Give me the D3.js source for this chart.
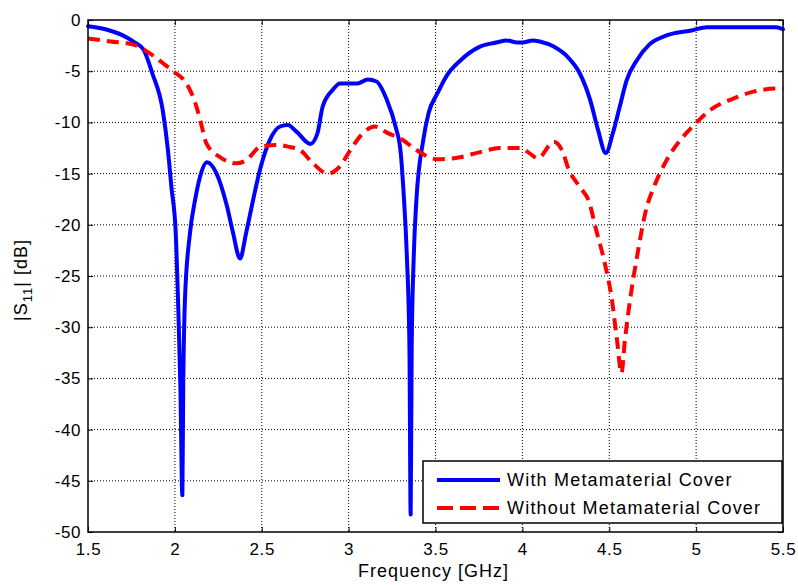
<!DOCTYPE html>
<html>
<head>
<meta charset="utf-8">
<script src="https://cdn.jsdelivr.net/npm/d3@7"></script>
<style>
  body { margin: 0; background: #fff; }
  svg text { font-family: Arial, "Liberation Sans", Helvetica, sans-serif; fill: #000; }
  .grid line { stroke: #000; stroke-width: 1; stroke-dasharray: 1,2; }
  .axis path { display: none; }
  .axis line { stroke: #000; stroke-width: 1; }
  .axis text { font-size: 17px; letter-spacing: 0.6px; }
</style>
</head>
<body>
<div id="chart"></div>
<script>
(function () {
    "use strict";

    // With metamaterial cover: [GHz, dB]
    var withCover = [
        [1.5, -0.6], [1.6, -0.9], [1.7, -1.5], [1.77, -2.2], [1.82, -2.9], [1.87, -5.2],
        [1.93, -8.8], [1.96, -12.7], [1.98, -16.3], [2.005, -20.8], [2.018, -27.3],
        [2.032, -36], [2.043, -46.4], [2.048, -36], [2.058, -27.3], [2.087, -20.8],
        [2.116, -17.6], [2.145, -15.3], [2.185, -13.9], [2.24, -15], [2.30, -18.2],
        [2.335, -20.8], [2.375, -23.3], [2.41, -20.8], [2.45, -17.6], [2.49, -14.6],
        [2.547, -11.7], [2.605, -10.4], [2.65, -10.25], [2.70, -10.9], [2.78, -12.1],
        [2.82, -11.1], [2.85, -8.5], [2.91, -6.8], [2.95, -6.2], [3.05, -6.2],
        [3.11, -5.8], [3.16, -6.0], [3.22, -7.8], [3.27, -10.4], [3.30, -13],
        [3.315, -16.5], [3.335, -23], [3.35, -32], [3.357, -48.3], [3.363, -32],
        [3.375, -23], [3.39, -17.6], [3.43, -11.7], [3.46, -9.1], [3.51, -7.2],
        [3.566, -5.4], [3.64, -4.0], [3.756, -2.6], [3.85, -2.2], [3.91, -2.0],
        [3.97, -2.2], [4.0, -2.2], [4.06, -2.0], [4.1, -2.1], [4.18, -2.6],
        [4.26, -3.6], [4.33, -5.2], [4.39, -7.8], [4.435, -10.7], [4.48, -13.0],
        [4.52, -11.1], [4.56, -8.5], [4.6, -5.9], [4.66, -3.9], [4.73, -2.4],
        [4.83, -1.5], [4.98, -1.0], [5.06, -0.7], [5.46, -0.7], [5.5, -0.9]
    ];

    // Without metamaterial cover: [GHz, dB]
    var withoutCover = [
        [1.5, -1.8], [1.63, -2.1], [1.76, -2.4], [1.86, -3.3], [1.93, -4.2], [1.99, -5.0],
        [2.07, -6.3], [2.125, -8.5], [2.155, -10.4], [2.18, -12.0], [2.26, -13.4],
        [2.355, -14.0], [2.41, -13.7], [2.49, -12.4], [2.59, -12.2], [2.66, -12.4],
        [2.72, -12.7], [2.795, -14.0], [2.88, -15.0], [2.95, -14.3], [3.01, -12.7],
        [3.08, -11.1], [3.15, -10.4], [3.22, -11.0], [3.31, -11.7], [3.39, -12.7],
        [3.51, -13.6], [3.64, -13.4], [3.756, -12.9], [3.87, -12.5], [3.99, -12.5],
        [4.04, -13.0], [4.09, -13.5], [4.18, -11.9], [4.235, -13.0], [4.26, -14.3],
        [4.33, -16.3], [4.385, -17.8], [4.42, -20.2], [4.475, -23.8], [4.515, -27.3],
        [4.545, -31.3], [4.57, -34.5], [4.59, -31.3], [4.62, -27.3], [4.66, -23.1],
        [4.717, -18.2], [4.75, -16.6], [4.83, -13.7], [4.91, -11.7], [4.98, -10.4],
        [5.08, -8.8], [5.21, -7.7], [5.33, -7.0], [5.465, -6.7], [5.5, -6.7]
    ];

    var xTicks = [1.5, 2, 2.5, 3, 3.5, 4, 4.5, 5, 5.5],
        yTicks = [0, -5, -10, -15, -20, -25, -30, -35, -40, -45, -50],
        legendLabels = ["With Metamaterial Cover", "Without Metamaterial Cover"];

    var margin = {top: 20, right: 15, bottom: 53, left: 88},
        widthGlobal = 798,
        heightGlobal = 585,
        width = widthGlobal - margin.left - margin.right,
        height = heightGlobal - margin.top - margin.bottom,

        x = d3.scaleLinear().domain([1.5, 5.5]).range([0, width]),
        y = d3.scaleLinear().domain([-50, 0]).range([height, 0]),

        line = d3.line()
            .x(function (d) { return x(d[0]); })
            .y(function (d) { return y(d[1]); })
            .curve(d3.curveMonotoneX),

        svg = d3.select("#chart").append("svg")
            .attr("width", widthGlobal)
            .attr("height", heightGlobal),

        plot = svg.append("g")
            .attr("transform", "translate(" + margin.left + "," + margin.top + ")");

    // grid
    plot.append("g").attr("class", "grid").selectAll("line")
        .data(xTicks.slice(1, -1))
        .enter().append("line")
        .attr("x1", function (d) { return x(d); })
        .attr("x2", function (d) { return x(d); })
        .attr("y1", 0)
        .attr("y2", height);
    plot.append("g").attr("class", "grid").selectAll("line")
        .data(yTicks.slice(1, -1))
        .enter().append("line")
        .attr("y1", function (d) { return y(d); })
        .attr("y2", function (d) { return y(d); })
        .attr("x1", 0)
        .attr("x2", width);

    // axes with inward ticks on all four sides
    var fmt = function (d) { return String(d); };
    plot.append("g").attr("class", "axis")
        .attr("transform", "translate(0," + height + ")")
        .call(d3.axisBottom(x).tickValues(xTicks).tickFormat(fmt).tickSizeInner(-5).tickPadding(11));
    plot.append("g").attr("class", "axis")
        .call(d3.axisTop(x).tickValues(xTicks).tickFormat("").tickSizeInner(-5));
    plot.append("g").attr("class", "axis")
        .call(d3.axisLeft(y).tickValues(yTicks).tickFormat(fmt).tickSizeInner(-5).tickPadding(7));
    plot.append("g").attr("class", "axis")
        .attr("transform", "translate(" + width + ",0)")
        .call(d3.axisRight(y).tickValues(yTicks).tickFormat("").tickSizeInner(-5));

    // curves
    plot.append("path")
        .datum(withCover)
        .attr("fill", "none")
        .attr("stroke", "#0000ff")
        .attr("stroke-width", 4)
        .attr("stroke-linejoin", "round")
        .attr("stroke-linecap", "round")
        .attr("d", line);
    plot.append("path")
        .datum(withoutCover)
        .attr("fill", "none")
        .attr("stroke", "#ff0000")
        .attr("stroke-width", 4)
        .attr("stroke-dasharray", "12,7")
        .attr("d", line);

    // frame
    plot.append("rect")
        .attr("width", width)
        .attr("height", height)
        .attr("fill", "none")
        .attr("stroke", "#000")
        .attr("stroke-width", 1.5);

    // legend
    var legend = plot.append("g")
        .attr("transform", "translate(" + (width - 360) + "," + (height - 71) + ")");
    legend.append("rect")
        .attr("width", 359)
        .attr("height", 62)
        .attr("fill", "#fff")
        .attr("stroke", "#000")
        .attr("stroke-width", 1.5);
    var rows = legend.selectAll(".row")
        .data(legendLabels)
        .enter().append("g")
        .attr("class", "row")
        .attr("transform", function (d, i) { return "translate(0," + (19 + i * 28) + ")"; });
    rows.append("line")
        .attr("x1", 14).attr("x2", 77)
        .attr("stroke", function (d, i) { return i === 0 ? "#0000ff" : "#ff0000"; })
        .attr("stroke-width", 4)
        .attr("stroke-dasharray", function (d, i) { return i === 0 ? null : "16,7"; });
    rows.append("text")
        .attr("x", 84)
        .attr("dy", "0.35em")
        .style("font-size", "18px")
        .style("letter-spacing", "1.2px")
        .text(function (d) { return d; });

    // axis titles
    svg.append("text")
        .attr("x", margin.left + width / 2 - 2)
        .attr("y", 577)
        .attr("text-anchor", "middle")
        .style("font-size", "18px")
        .style("letter-spacing", "1px")
        .text("Frequency [GHz]");
    var yl = svg.append("text")
        .attr("transform", "translate(27,280) rotate(-90)")
        .attr("text-anchor", "middle")
        .style("font-size", "18px")
        .style("letter-spacing", "1px");
    yl.append("tspan").text("|S");
    yl.append("tspan").attr("dy", 5).style("font-size", "13px").text("11");
    yl.append("tspan").attr("dy", -5).text("| [dB]");
}());
</script>
</body>
</html>
